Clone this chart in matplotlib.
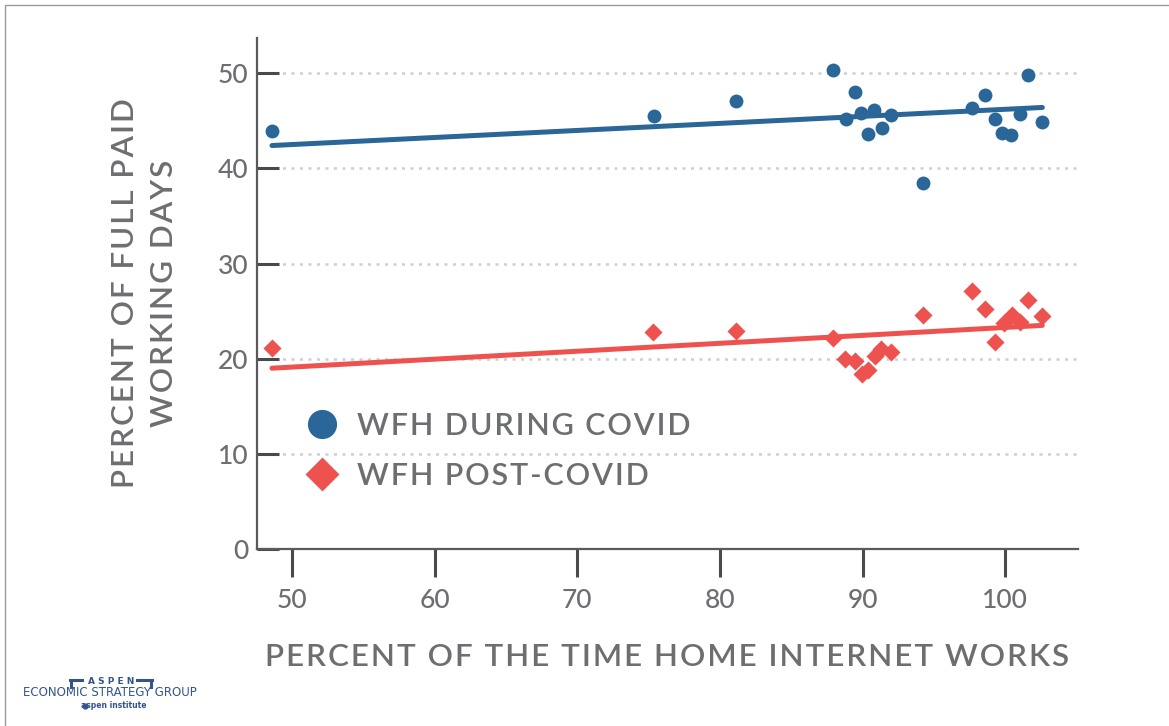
import numpy as np
import matplotlib.pyplot as plt
from matplotlib.lines import Line2D
from matplotlib.patches import Rectangle

# ── data ──────────────────────────────────────────────────────────────────────
during_x = [48.6, 75.4, 81.1, 87.9, 89.5, 88.85, 89.9, 90.8, 92.0, 90.4, 91.35,
            94.25, 97.7, 98.6, 99.3, 99.8, 100.4, 101.0, 101.6, 102.6]
during_y = [43.9, 45.5, 47.1, 50.3, 48.0, 45.2, 45.8, 46.1, 45.6, 43.6, 44.2,
            38.5, 46.3, 47.7, 45.2, 43.7, 43.5, 45.7, 49.8, 44.9]

post_x = [48.6, 75.3, 81.1, 87.95, 88.8, 89.5, 89.95, 90.4, 90.9, 91.3, 92.0,
          94.25, 97.7, 98.6, 99.3, 99.9, 100.5, 101.0, 101.6, 102.6]
post_y = [21.1, 22.8, 22.9, 22.2, 20.0, 19.8, 18.4, 18.8, 20.3, 21.0, 20.7,
          24.6, 27.1, 25.2, 21.8, 23.8, 24.6, 23.9, 26.2, 24.5]

# fitted trend lines as drawn in the chart
fit_x = [48.6, 102.6]
during_fit = [42.4, 46.4]
post_fit = [19.0, 23.5]

x_ticks = [50, 60, 70, 80, 90, 100]
y_ticks = [0, 10, 20, 30, 40, 50]

BLUE = "#2b6699"
RED = "#ee524f"
GREY = "#6d6e71"
DARK = "#4a4a4a"
NAVY = "#34558b"
FONT = ["Lato", "DejaVu Sans"]


def track(s):
    # fake letter spacing with hair spaces
    return "\u200a".join(s)


W, H = 1169, 726
fig = plt.figure(figsize=(W / 100, H / 100), dpi=100)

# axes box in pixels: left 257, right 1078, top 38, bottom 549
ax = fig.add_axes([257 / W, 1 - 549 / H, (1078 - 257) / W, (549 - 38) / H])
ax.set_xlim(47.55, 105.1)
ax.set_ylim(0, 53.7)

for s in ["top", "right"]:
    ax.spines[s].set_visible(False)
for s in ["left", "bottom"]:
    ax.spines[s].set_color("#5a5a5a")
    ax.spines[s].set_linewidth(1.6)

ax.set_xticks(x_ticks)
ax.set_yticks(y_ticks)
ax.tick_params(axis="y", direction="in", length=16, width=2.2, color=DARK,
               labelsize=19, labelcolor=GREY, pad=6)
ax.tick_params(axis="x", direction="out", length=20, width=2.2, color=DARK,
               labelsize=19, labelcolor=GREY, pad=8)
for lab in ax.get_xticklabels() + ax.get_yticklabels():
    lab.set_family(FONT)
    lab.set_fontweight("medium")

# dotted horizontal grid
for yv in y_ticks[1:]:
    ax.axhline(yv, color="#cfcfcf", lw=1.8, ls=(0, (1.2, 2.2)), zorder=0)

ax.plot(fit_x, during_fit, color=BLUE, lw=3.6, solid_capstyle="round", zorder=2)
ax.plot(fit_x, post_fit, color=RED, lw=3.6, solid_capstyle="round", zorder=2)
ax.scatter(during_x, during_y, s=100, color=BLUE, marker="o", linewidths=0, zorder=3)
ax.scatter(post_x, post_y, s=85, color=RED, marker="D", linewidths=0, zorder=3)

ax.set_xlabel(track("PERCENT OF THE TIME HOME INTERNET WORKS"), fontsize=22.6,
              color=GREY, labelpad=22, family=FONT, fontweight="semibold")
ax.set_ylabel(track("PERCENT OF FULL PAID") + "\n" + track("WORKING DAYS"),
              fontsize=22.6, color=GREY, labelpad=29, linespacing=1.45,
              family=FONT, fontweight="semibold")

handles = [
    Line2D([], [], ls="", marker="o", ms=21, color=BLUE, mec="none"),
    Line2D([], [], ls="", marker="D", ms=17, color=RED, mec="none"),
]
leg = ax.legend(handles, [track("WFH DURING COVID"), track("WFH POST-COVID")],
                loc="center left", bbox_to_anchor=(0.0573, 0.192),
                frameon=False, labelspacing=0.73, borderpad=0,
                handletextpad=0.54, handlelength=1.2, borderaxespad=0,
                prop={"family": FONT, "size": 22, "weight": "semibold"})
for t in leg.get_texts():
    t.set_color(GREY)

# logo bottom-left
fig.text(111 / W, 1 - 682 / H, "A S P E N", fontsize=6.5, fontweight="bold",
         color=NAVY, ha="center", va="center")
fig.text(110 / W, 1 - 693 / H, "ECONOMIC STRATEGY GROUP", fontsize=8.5,
         color=NAVY, ha="center", va="center")
fig.text(114 / W, 1 - 706 / H, "aspen institute", fontsize=5.5, fontweight="bold",
         color=NAVY, ha="center", va="center")
fig.add_artist(Line2D([85 / W], [1 - 706 / H], marker="o", ms=3.5, color=NAVY, ls=""))
fig.add_artist(Line2D([70 / W, 82 / W], [1 - 680 / H, 1 - 680 / H], lw=2.2, color=NAVY))
fig.add_artist(Line2D([71 / W, 71 / W], [1 - 680 / H, 1 - 687 / H], lw=2.2, color=NAVY))
fig.add_artist(Line2D([137 / W, 152 / W], [1 - 680 / H, 1 - 680 / H], lw=2.2, color=NAVY))
fig.add_artist(Line2D([151 / W, 151 / W], [1 - 680 / H, 1 - 687 / H], lw=2.2, color=NAVY))

# thin page frame
fig.add_artist(Rectangle((5 / W, -0.05), 1.2, 1.05 - 5 / H, transform=fig.transFigure,
                         fill=False, ec="#9a9a9a", lw=1))

fig.savefig("out.png", dpi=100)
